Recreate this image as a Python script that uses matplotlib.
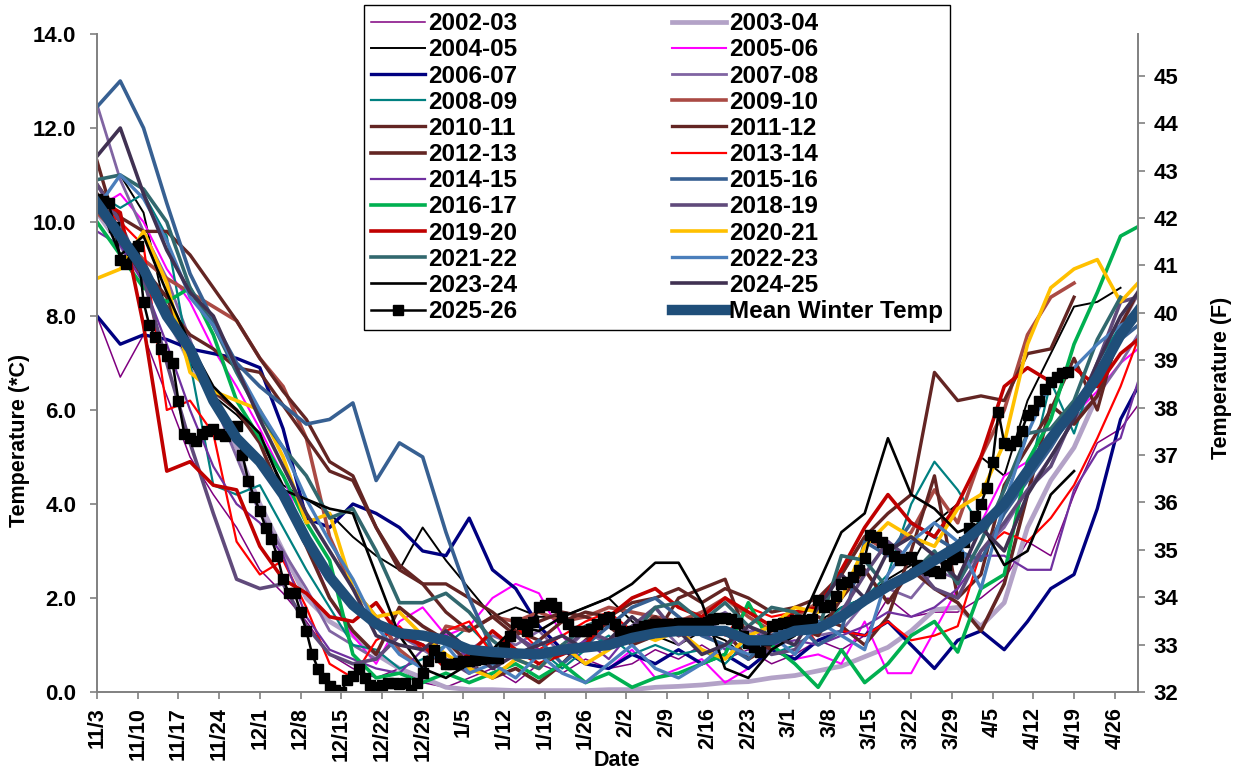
import numpy as np
import matplotlib
matplotlib.use("Agg")
import matplotlib.pyplot as plt

plt.rcParams['font.family'] = ['Liberation Sans', 'DejaVu Sans']
plt.rcParams['font.weight'] = 'bold'

nan = np.nan

# sample days, counted from 11/3 (winter axis uses a 29-day February)
days = list(range(0, 177, 4)) + [179]

tick_days = list(range(0, 176, 7))
tick_labels = ["11/3", "11/10", "11/17", "11/24", "12/1", "12/8", "12/15",
               "12/22", "12/29", "1/5", "1/12", "1/19", "1/26", "2/2", "2/9",
               "2/16", "2/23", "3/1", "3/8", "3/15", "3/22", "3/29", "4/5",
               "4/12", "4/19", "4/26"]

y2002 = [8.0, 6.7, 7.6, 6.3, 5.0, 4.2, 3.5, 2.6, 2.1, 1.5,
         0.8, 0.5, 0.3, 0.5, 0.2, 0.1, 0.3, 0.5, 0.2, 0.6,
         0.4, 0.7, 0.5, 0.6, 0.9, 0.7, 1.0, 0.7, 0.9, 0.6,
         0.8, 1.1, 0.9, 1.2, 2.0, 1.6, 1.7, 1.7, 2.0, 2.4,
         3.2, 2.9, 4.2, 5.3, 5.6, 6.1]
y2003 = [10.2, 9.5, 8.8, 8.0, 7.0, 6.2, 5.2, 4.0, 3.0, 2.0,
         1.5, 1.2, 0.8, 0.5, 0.3, 0.1, 0.05, 0.05, 0.03, 0.03,
         0.03, 0.03, 0.05, 0.05, 0.1, 0.12, 0.15, 0.2, 0.22, 0.3,
         0.35, 0.45, 0.55, 0.75, 0.95, 1.3, 1.75, 1.8, 1.4, 1.9,
         3.5, 4.5, 5.2, 6.3, 7.8, 8.5]
y2004 = [10.9, 11.0, 10.2, 8.0, 7.0, 6.3, 5.9, 5.4, 4.4, 4.1,
         3.8, 3.3, 2.9, 2.6, 3.5, 2.8, 2.2, 1.6, 1.8, 1.6,
         1.6, 1.8, 2.0, 1.5, 1.2, 1.0, 1.3, 1.1, 0.7, 1.3,
         1.6, 1.5, 1.8, 2.0, 2.4, 2.7, 3.6, 4.0, 5.0, 4.6,
         6.2, 7.2, 8.2, 8.3, 8.6, nan]
y2005 = [10.3, 10.6, 10.0, 9.0, 8.3, 7.3, 6.5, 5.6, 4.6, 3.2,
         2.0, 1.2, 0.6, 1.5, 1.8, 1.2, 1.4, 2.0, 2.3, 2.1,
         1.2, 0.6, 0.5, 0.9, 0.3, 0.5, 0.7, 0.2, 0.5, 0.9,
         0.7, 0.8, 0.6, 1.5, 0.4, 0.4, 1.3, 2.2, 3.6, 4.6,
         4.9, 5.4, 5.9, 6.4, 7.0, 7.3]
y2006 = [8.0, 7.4, 7.6, 7.5, 7.3, 7.2, 7.1, 6.9, 5.6, 3.7,
         3.5, 4.0, 3.8, 3.5, 3.0, 2.9, 3.7, 2.6, 2.2, 1.4,
         0.9, 0.6, 0.5, 0.8, 0.6, 0.9, 0.6, 0.8, 0.5, 0.9,
         0.7, 1.1, 1.3, 1.2, 1.5, 1.0, 0.5, 1.1, 1.3, 0.9,
         1.5, 2.2, 2.5, 3.9, 5.8, 6.5]
y2007 = [12.5, 10.9, 9.8, 8.8, 7.5, 6.2, 5.0, 3.8, 3.0, 2.2,
         1.3, 1.0, 0.7, 1.2, 0.9, 0.6, 0.9, 1.2, 1.0, 1.3,
         0.8, 1.3, 1.0, 1.2, 1.5, 1.0, 1.4, 1.7, 1.3, 1.2,
         1.5, 1.2, 1.3, 1.9, 2.2, 2.0, 2.6, 2.4, 3.0, 3.5,
         4.3, 5.0, 5.8, 6.3, 7.0, 7.6]
y2008 = [10.6, 10.3, 10.6, 9.7, 7.0, 4.4, 4.2, 4.4, 3.5, 2.6,
         1.8, 1.0, 0.9, 0.5, 0.7, 1.0, 1.4, 0.9, 0.7, 0.9,
         0.5, 0.9, 1.2, 0.8, 1.0, 0.8, 0.9, 0.6, 1.1, 0.8,
         1.0, 1.3, 1.8, 2.0, 2.5, 4.0, 4.9, 4.3, 3.5, 3.9,
         4.5, 6.6, 5.5, 7.0, 7.8, 8.2]
y2009 = [10.2, 9.7, 9.2, 8.8, 8.5, 8.2, 7.9, 7.1, 6.5, 5.4,
         3.3, 2.2, 1.6, 0.9, 0.5, 1.4, 1.3, 1.6, 1.5, 1.7,
         1.5, 1.6, 1.8, 1.7, 1.6, 1.5, 1.7, 2.0, 1.6, 1.3,
         1.6, 1.9, 2.5, 3.3, 3.0, 3.4, 4.3, 3.6, 5.0, 6.0,
         7.6, 8.4, 8.7, nan, nan, nan]
y2010 = [11.3, 9.6, 8.8, 8.2, 7.6, 7.3, 6.9, 6.8, 6.1, 5.4,
         4.7, 4.5, 3.5, 2.6, 2.3, 1.7, 1.3, 1.6, 1.2, 1.5,
         1.7, 1.6, 1.4, 1.0, 1.2, 2.0, 2.2, 2.4, 1.1, 0.9,
         1.3, 1.6, 1.4, 1.0, 1.6, 3.0, 4.6, 2.0, 2.5, 4.4,
         5.2, 6.0, 7.1, 6.0, 7.8, 8.5]
y2011 = [10.8, 10.1, 9.8, 9.8, 9.3, 8.6, 7.9, 7.1, 6.4, 5.8,
         4.9, 4.6, 3.5, 2.7, 2.3, 2.3, 2.0, 1.7, 1.3, 1.1,
         1.5, 1.7, 1.6, 1.9, 2.0, 2.2, 1.9, 2.2, 2.0, 1.7,
         1.8, 2.0, 2.5, 3.3, 3.8, 4.2, 6.8, 6.2, 6.3, 6.2,
         7.2, 7.3, 8.4, nan, nan, nan]
y2012 = [10.6, 9.8, 9.0, 8.4, 7.2, 6.4, 6.0, 5.3, 4.1, 3.1,
         2.0, 1.3, 0.8, 1.8, 1.4, 1.1, 0.6, 0.3, 0.5, 0.2,
         0.6, 1.1, 1.5, 1.3, 1.6, 1.2, 1.4, 1.3, 0.7, 1.0,
         1.4, 1.2, 2.0, 2.6, 1.9, 2.6, 2.2, 1.9, 1.3, 2.3,
         4.2, 6.1, 5.7, 6.3, 7.6, 8.1]
y2013 = [10.4, 10.0, 9.5, 6.0, 6.2, 5.5, 3.2, 2.5, 2.8, 1.8,
         0.6, 0.3, 1.1, 1.4, 0.9, 1.3, 1.5, 0.8, 1.4, 0.9,
         1.2, 1.5, 1.7, 1.3, 1.2, 1.4, 1.6, 1.2, 1.8, 1.6,
         1.7, 1.0, 1.3, 1.2, 1.5, 1.1, 1.2, 1.4, 3.0, 3.4,
         3.2, 3.7, 4.4, 5.4, 6.5, 7.5]
y2014 = [9.8, 9.5, 8.7, 7.4, 6.0, 4.8, 4.0, 3.6, 2.9, 1.6,
         0.9, 0.7, 0.5, 0.4, 0.9, 1.2, 0.7, 0.9, 1.2, 0.9,
         0.8, 1.1, 0.7, 1.3, 1.4, 1.2, 1.3, 0.9, 1.4, 1.0,
         1.1, 1.0, 1.2, 1.4, 1.7, 1.6, 1.8, 2.2, 2.9, 2.9,
         2.6, 2.6, 4.3, 5.1, 5.4, 6.6]
y2015 = [12.45, 13.0, 12.0, 10.4, 8.9, 7.9, 7.0, 6.5, 6.1, 5.7,
         5.8, 6.15, 4.5, 5.3, 5.0, 3.4, 2.0, 0.9, 0.7, 1.1,
         0.6, 1.0, 1.4, 1.8, 2.0, 1.6, 1.2, 1.0, 0.7, 1.2,
         1.5, 1.0, 1.3, 3.2, 2.9, 3.6, 3.3, 3.0, 2.8, 3.8,
         4.5, 5.2, 6.0, 6.8, 7.5, 7.8]
y2016 = [10.0, 9.3, 8.6, 8.3, 8.6, 7.6, 6.2, 5.4, 4.6, 3.6,
         2.8, 0.8, 0.3, 0.4, 0.2, 0.4, 0.2, 0.4, 0.6, 0.3,
         0.6, 0.2, 0.4, 0.1, 0.3, 0.4, 0.6, 0.8, 1.9, 1.0,
         0.6, 0.1, 0.9, 0.2, 0.6, 1.2, 1.5, 0.85, 2.2, 2.5,
         4.9, 5.8, 7.4, 8.5, 9.7, 9.9]
y2018 = [10.8, 10.0, 8.8, 7.0, 5.3, 3.8, 2.4, 2.2, 2.3, 1.4,
         0.8, 0.6, 0.7, 1.2, 1.0, 0.7, 0.4, 0.9, 1.2, 0.8,
         0.9, 1.3, 1.1, 1.4, 1.8, 1.2, 1.5, 1.3, 1.1, 0.8,
         0.9, 1.4, 1.7, 2.5, 3.2, 2.8, 2.2, 2.0, 3.0, 3.6,
         4.3, 4.8, 5.9, 7.0, 8.3, 8.4]
y2019 = [10.5, 10.2, 7.8, 4.7, 4.9, 4.4, 4.3, 3.1, 2.4, 2.1,
         1.6, 1.5, 1.9, 1.2, 1.0, 0.5, 0.8, 1.3, 0.9, 0.6,
         0.8, 1.0, 1.6, 2.0, 2.2, 1.8, 1.6, 2.0, 1.7, 1.4,
         1.7, 1.8, 2.6, 3.5, 4.2, 3.6, 3.3, 4.0, 5.0, 6.5,
         6.9, 6.6, 6.9, 6.5, 7.2, 7.5]
y2020 = [8.8, 9.0, 9.8, 8.7, 6.8, 6.4, 6.2, 6.0, 5.0, 3.6,
         3.8, 2.2, 1.6, 1.7, 1.2, 0.8, 0.5, 0.3, 0.7, 0.5,
         1.0, 0.6, 0.9, 1.3, 1.1, 1.3, 0.9, 0.7, 1.2, 1.4,
         1.8, 1.7, 2.0, 3.1, 3.6, 3.3, 3.1, 3.9, 4.2, 5.3,
         7.4, 8.6, 9.0, 9.2, 8.3, 8.7]
y2021 = [10.9, 11.0, 10.7, 10.0, 8.6, 7.8, 6.8, 5.9, 5.2, 4.6,
         3.7, 3.9, 3.0, 1.9, 1.9, 2.1, 1.7, 1.1, 0.7, 0.5,
         1.0, 1.4, 1.6, 1.2, 1.8, 1.9, 1.5, 1.9, 1.4, 1.8,
         1.7, 1.3, 2.9, 2.8, 2.2, 2.5, 3.0, 2.3, 3.2, 4.3,
         5.5, 5.6, 6.2, 7.5, 8.4, nan]
y2022 = [10.3, 11.0, 10.5, 9.6, 8.4, 7.8, 6.9, 6.0, 5.2, 4.1,
         3.2, 2.4, 1.4, 0.8, 0.5, 1.0, 0.4, 0.6, 0.3, 0.8,
         0.4, 0.2, 0.6, 1.0, 0.5, 0.3, 0.6, 1.0, 0.8, 1.2,
         0.8, 1.5, 1.2, 0.9, 2.5, 3.2, 3.6, 3.2, 2.2, 4.0,
         5.5, 6.6, 6.9, 7.4, 7.8, 8.0]
y2023 = [10.5, 9.3, 9.7, 8.5, 7.4, 6.5, 6.0, 5.5, 4.3, 4.1,
         3.9, 3.8, 2.5, 1.2, 0.5, 0.3, 0.6, 0.9, 1.4, 1.3,
         1.6, 1.8, 2.0, 2.3, 2.75, 2.75, 1.9, 0.5, 0.3, 0.9,
         1.2, 2.3, 3.4, 3.8, 5.4, 4.2, 3.9, 3.4, 3.6, 2.7,
         3.0, 4.2, 4.7, nan, nan, nan]
y2024 = [11.4, 12.0, 10.6, 9.4, 8.5, 8.0, 6.9, 5.8, 4.8, 3.8,
         3.0, 2.2, 1.2, 1.0, 0.9, 1.3, 0.9, 0.5, 0.8, 1.0,
         1.2, 0.9, 1.1, 1.6, 1.2, 1.3, 0.8, 1.0, 1.4, 1.2,
         1.0, 1.8, 2.5, 2.0, 3.0, 3.3, 2.9, 2.4, 3.5, 3.0,
         4.2, 5.0, 5.8, 7.0, 8.0, 8.5]
mean_temp = [10.4, 9.7, 9.0, 8.0, 7.3, 6.2, 5.4, 4.9, 4.2, 3.25,
             2.45, 1.85, 1.45, 1.25, 1.2, 1.1, 0.9, 0.85, 0.82, 0.8,
             0.9, 0.95, 1.0, 1.15, 1.25, 1.3, 1.3, 1.3, 1.1, 1.1,
             1.3, 1.35, 1.6, 1.95, 2.25, 2.5, 2.8, 3.1, 3.5, 4.0,
             4.7, 5.4, 6.0, 6.7, 7.6, 8.1]

# current season, one value per day from 11/3
y2025 = [10.5, 10.45, 10.4, 9.9, 9.2, 9.1, 9.4, 9.5, 8.3, 7.8,
         7.55, 7.3, 7.15, 7.0, 6.2, 5.5, 5.4, 5.35, 5.5, 5.55,
         5.6, 5.5, 5.45, 5.55, 5.65, 5.05, 4.5, 4.15, 3.85, 3.5,
         3.25, 2.9, 2.4, 2.1, 2.1, 1.7, 1.3, 0.8, 0.5, 0.3,
         0.12, 0.05, 0.0, 0.25, 0.35, 0.5, 0.3, 0.15, 0.1, 0.15,
         0.2, 0.2, 0.18, 0.2, 0.05, 0.2, 0.4, 0.65, 0.9, 0.75,
         0.6, 0.6, 0.62, 0.65, 0.66, 0.68, 0.7, 0.72, 0.72, 0.72,
         0.95, 1.2, 1.5, 1.45, 1.3, 1.5, 1.8, 1.85, 1.9, 1.8,
         1.6, 1.45, 1.3, 1.3, 1.3, 1.35, 1.45, 1.55, 1.6, 1.45,
         1.3, 1.28, 1.3, 1.35, 1.4, 1.42, 1.45, 1.45, 1.45, 1.45,
         1.47, 1.47, 1.47, 1.47, 1.47, 1.5, 1.55, 1.58, 1.58, 1.55,
         1.47, 1.2, 1.05, 0.95, 0.85, 1.1, 1.4, 1.45, 1.47, 1.5,
         1.53, 1.53, 1.53, 1.55, 1.95, 1.8, 1.85, 2.05, 2.3, 2.35,
         2.45, 2.6, 2.85, 3.35, 3.3, 3.2, 3.05, 2.9, 2.8, 2.82,
         2.87, 2.7, 2.64, 2.6, 2.57, 2.53, 2.7, 2.82, 2.87, 3.2,
         3.5, 3.75, 4.0, 4.35, 4.9, 5.95, 5.3, 5.25, 5.35, 5.55,
         5.9, 6.0, 6.2, 6.45, 6.6, 6.7, 6.79, 6.8]

# name, values, colour, line width
seasons = [
    ("2002-03", y2002, "#800080", 1.1),
    ("2003-04", y2003, "#B3A2C7", 3.4),
    ("2004-05", y2004, "black", 1.4),
    ("2005-06", y2005, "#FF00FF", 1.5),
    ("2006-07", y2006, "#000080", 2.4),
    ("2007-08", y2007, "#8064A2", 2.0),
    ("2008-09", y2008, "#008080", 1.6),
    ("2009-10", y2009, "#AA4A44", 2.6),
    ("2010-11", y2010, "#632523", 2.4),
    ("2011-12", y2011, "#632523", 2.4),
    ("2012-13", y2012, "#632523", 2.6),
    ("2013-14", y2013, "#FF0000", 1.6),
    ("2014-15", y2014, "#7030A0", 1.6),
    ("2015-16", y2015, "#376092", 2.6),
    ("2016-17", y2016, "#00B050", 2.6),
    ("2018-19", y2018, "#604A7B", 2.6),
    ("2019-20", y2019, "#C00000", 2.6),
    ("2020-21", y2020, "#FFC000", 2.6),
    ("2021-22", y2021, "#31686E", 2.6),
    ("2022-23", y2022, "#4A7EBB", 2.4),
    ("2023-24", y2023, "black", 1.9),
    ("2024-25", y2024, "#403152", 2.6),
]

fig = plt.figure(figsize=(12.44, 7.71), dpi=100)
ax = fig.add_axes([97 / 1244, 1 - 692 / 771, 1041 / 1244, 658 / 771])

handles = []
for name, vals, color, lw in seasons:
    h, = ax.plot(days, vals, color=color, lw=lw, label=name)
    handles.append(h)

h, = ax.plot(range(len(y2025)), y2025, color="black", lw=1.8, marker="s",
             ms=7.3, label="2025-26")
handles.append(h)
h, = ax.plot(days, mean_temp, color="#1F4E79", lw=7.5, label="Mean Winter Temp")
handles.append(h)

ax.set_xlim(0, 179)
ax.set_ylim(0, 14)
ax.set_yticks(np.arange(0, 15, 2))
ax.set_yticklabels(["%.1f" % v for v in np.arange(0, 15, 2)])
ax.set_xticks(tick_days)
ax.set_xticklabels(tick_labels, rotation=90)

gray = "#808080"
for side in ["left", "bottom"]:
    ax.spines[side].set_color(gray)
    ax.spines[side].set_linewidth(1.4)
ax.spines["top"].set_visible(False)
ax.spines["right"].set_visible(False)
ax.tick_params(axis="y", direction="out", length=5, width=1.2, color=gray,
               labelsize=16, pad=10)
ax.tick_params(axis="x", direction="out", length=5, width=1.2, color=gray,
               labelsize=15.5, pad=6)

ax2 = ax.twinx()
ax2.set_ylim(32, 45.88)
ax2.set_yticks(range(32, 46))
ax2.spines["right"].set_color(gray)
ax2.spines["right"].set_linewidth(1.4)
for side in ["left", "top", "bottom"]:
    ax2.spines[side].set_visible(False)
ax2.tick_params(axis="y", direction="out", length=5, width=1.2, color=gray,
                labelsize=16, pad=6)

fig.text(20 / 1244, 1 - 440 / 771, "Temperature (*C)", rotation=90,
         ha="center", va="center", fontsize=15.5, fontweight="bold")
fig.text(1222 / 1244, 1 - 378 / 771, "Temperature (F)", rotation=90,
         ha="center", va="center", fontsize=15.5, fontweight="bold")
fig.text(617 / 1244, 1 - 760 / 771, "Date", ha="center", va="center",
         fontsize=15.5, fontweight="bold")

# legend fills row by row, two columns
order = handles[0::2] + handles[1::2]
leg = fig.legend(order, [o.get_label() for o in order], ncol=2,
                 loc="upper left", bbox_to_anchor=(364 / 1244, 1 - 5 / 771),
                 fontsize=17.5, frameon=True, fancybox=False, framealpha=1,
                 edgecolor="black", borderpad=0.3, labelspacing=0.13,
                 handlelength=2.2, handletextpad=0.12, columnspacing=6.4,
                 borderaxespad=0)
leg.get_frame().set_linewidth(1.0)

fig.savefig("out.png", dpi=100)
